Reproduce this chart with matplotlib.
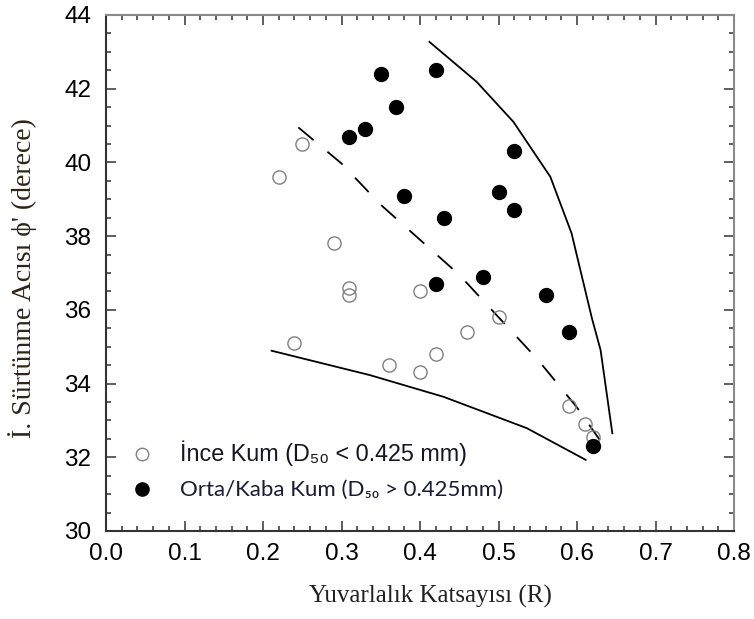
import numpy as np
import matplotlib.pyplot as plt
from matplotlib.lines import Line2D

# ince kum (hollow) points
ince_R = [0.22, 0.25, 0.29, 0.31, 0.31, 0.24, 0.36, 0.40, 0.40, 0.42, 0.46, 0.50, 0.59, 0.61, 0.62]
ince_phi = [39.6, 40.5, 37.8, 36.6, 36.4, 35.1, 34.5, 34.3, 36.5, 34.8, 35.4, 35.8, 33.4, 32.9, 32.55]

# orta/kaba kum (filled) points
kaba_R = [0.31, 0.33, 0.35, 0.37, 0.42, 0.52, 0.38, 0.50, 0.52, 0.43, 0.48, 0.42, 0.56, 0.59, 0.62]
kaba_phi = [40.7, 40.9, 42.4, 41.5, 42.5, 40.3, 39.1, 39.2, 38.7, 38.5, 36.9, 36.7, 36.4, 35.4, 32.3]

# upper envelope
ust_R = [0.412, 0.472, 0.519, 0.566, 0.593, 0.619, 0.630, 0.645]
ust_phi = [43.27, 42.19, 41.10, 39.61, 38.08, 35.77, 34.91, 32.65]

# lower envelope
alt_R = [0.211, 0.336, 0.43, 0.536, 0.611]
alt_phi = [34.89, 34.23, 33.64, 32.79, 31.93]

# mean trend (dashed)
ort_R = [0.245, 0.30, 0.35, 0.40, 0.45, 0.50, 0.55, 0.60, 0.629]
ort_phi = [40.95, 39.97, 38.85, 37.9, 36.95, 35.8, 34.65, 33.35, 32.47]

fig = plt.figure(figsize=(7.54, 6.19), dpi=100)
ax = fig.add_axes([0.1406, 0.1422, 0.8329, 0.8336])

ax.plot(ust_R, ust_phi, color='k', lw=1.3)
ax.plot(alt_R, alt_phi, color='k', lw=1.3)
ax.plot(ort_R, ort_phi, color='k', lw=1.3, linestyle=(0, (11, 10)))

ax.plot(ince_R, ince_phi, 'o', ms=9.5, mfc='none', mec='#808080', mew=1.0, zorder=3)
ax.plot(kaba_R, kaba_phi, 'o', ms=10, mfc='k', mec='k', zorder=4)

ax.set_xlim(0, 0.8)
ax.set_ylim(30, 44)
ax.set_xticks(np.arange(0, 0.81, 0.1))
ax.set_xticks(np.arange(0, 0.81, 0.02), minor=True)
ax.set_yticks(np.arange(30, 44.1, 2))
ax.set_yticks(np.arange(30, 44.1, 0.5), minor=True)

ax.tick_params(which='both', direction='in', top=True, right=True, width=1.1, color='#333333')
ax.tick_params(which='major', length=7.5)
ax.tick_params(which='minor', length=3.5)
ax.tick_params(axis='x', which='major', pad=9)
ax.tick_params(axis='y', which='major', pad=10.5)
ax.set_xticklabels([f'{v:.1f}' for v in np.arange(0, 0.81, 0.1)], family='Liberation Sans', fontsize=17.5)
ax.set_yticklabels([f'{v:d}' for v in range(30, 45, 2)], family='Liberation Sans', fontsize=17.5)

for s in ['left', 'bottom']:
    ax.spines[s].set_color('#333333')
    ax.spines[s].set_linewidth(1.5)
for s in ['top', 'right']:
    ax.spines[s].set_color('#8a8a8a')
    ax.spines[s].set_linewidth(1.5)

ax.set_xlabel('Yuvarlalık Katsayısı (R)', family='Liberation Serif', fontsize=18, color='#222222')
ax.xaxis.set_label_coords(0.516, -0.105)
ax.set_ylabel("İ. Sürtünme Acısı ϕ' (derece)", family=['Liberation Serif', 'DejaVu Serif'], fontsize=20,
              color='#2e2418')
ax.yaxis.set_label_coords(-0.11, 0.49)

handles = [Line2D([], [], marker='o', ls='none', ms=9, mfc='none', mec='#808080', mew=1.0),
           Line2D([], [], marker='o', ls='none', ms=9.5, mfc='k', mec='k')]
labels = ['İnce Kum (D₅₀ < 0.425 mm)', 'Orta/Kaba Kum (D₅₀ > 0.425mm)']
leg = ax.legend(handles, labels, loc='lower left', bbox_to_anchor=(0.027, 0.04), frameon=False,
                handlelength=0.8, handletextpad=1.45, labelspacing=0.65, borderpad=0, fontsize=15)
t1, t2 = leg.get_texts()
t1.set_fontfamily(['Liberation Sans', 'DejaVu Sans'])
t1.set_fontsize(16.8)
t1.set_color('#151525')
t2.set_fontfamily(['Lato', 'DejaVu Sans'])
t2.set_fontsize(16)
t2.set_color('#1a1a33')

fig.savefig('out.png', dpi=100)
